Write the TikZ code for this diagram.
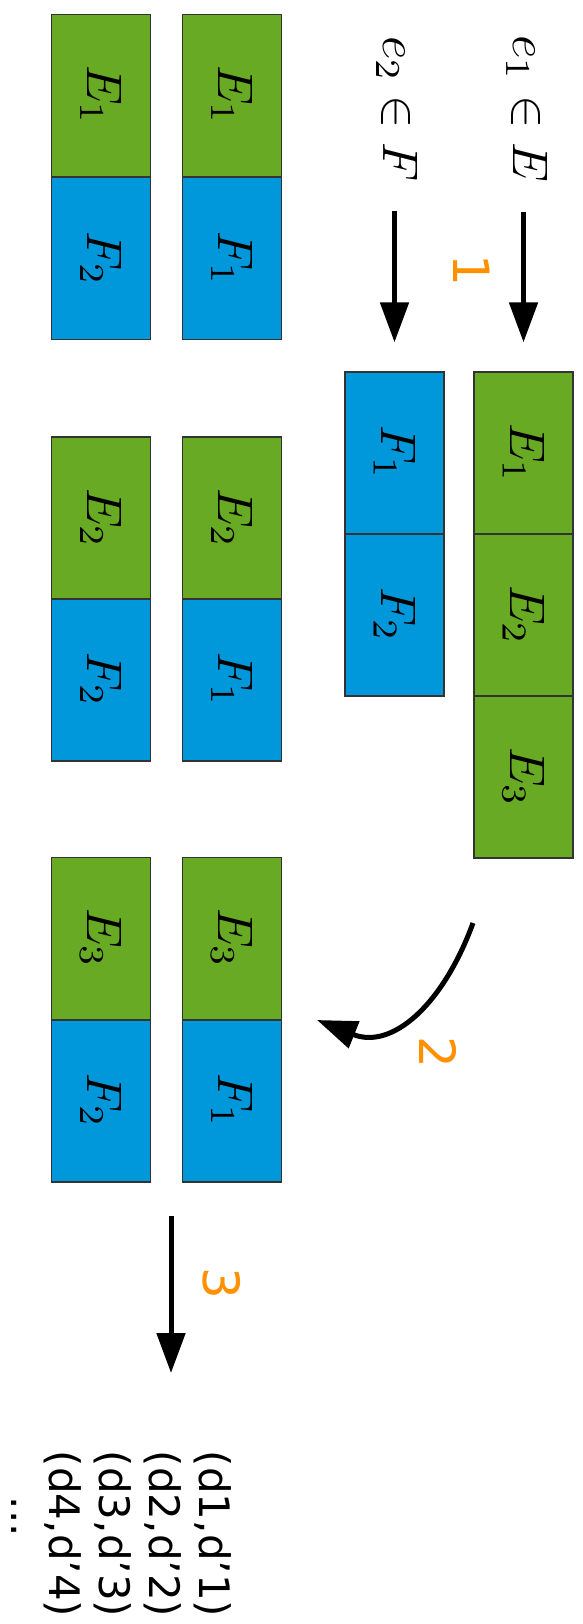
\documentclass[tikz,border=0pt]{standalone}
\usepackage{graphicx}
\usepackage{fontspec}
\newfontfamily\dvs{DejaVu Sans}
\usetikzlibrary{arrows.meta,calc}

\definecolor{cellgreen}{RGB}{104,170,36}
\definecolor{cellblue}{RGB}{0,152,218}
\definecolor{steporange}{RGB}{255,145,0}

% math set at 10pt, enlarged to 50pt
\newcommand{\bigmath}[1]{\scalebox{5}{$#1$}}

\begin{document}
\begin{tikzpicture}[x=1pt,y=-1pt,
  cell/.style={draw=black!80, line width=1.3pt, rotate=-90, minimum width=162pt,
               minimum height=99pt, inner sep=0pt},
  ecell/.style={cell, fill=cellgreen},
  fcell/.style={cell, fill=cellblue},
  mathlbl/.style={rotate=-90, inner sep=0pt},
  steplbl/.style={rotate=-90, inner sep=0pt, text=steporange, font=\dvs\fontsize{50}{60}\selectfont},
  pairlbl/.style={rotate=-90, inner sep=0pt, font=\dvs\fontsize{42}{50}\selectfont},
  flow/.style={line width=5pt, -{Triangle[width=28pt,length=40pt]}},
]
\useasboundingbox (0,0) rectangle (583,1624);

% input sets
\node[mathlbl] (t1) at (527,109) {\bigmath{e_1 \in E}};
\node[mathlbl] (t2) at (397,109) {\bigmath{e_2 \in F}};

% E and F partitions
\node[ecell] (E1) at (523.5,453) {\bigmath{E_1}};
\node[ecell] (E2) at (523.5,615) {\bigmath{E_2}};
\node[ecell] (E3) at (523.5,777) {\bigmath{E_3}};
\node[fcell] (F1) at (394.5,453) {\bigmath{F_1}};
\node[fcell] (F2) at (394.5,615) {\bigmath{F_2}};

\draw[flow, shorten <=29pt, shorten >=29pt] (t1.east -| E1.west) -- (E1.west);
\draw[flow, shorten <=29pt, shorten >=29pt] (t2.east -| F1.west) -- (F1.west);
\node[steplbl] (n1) at (472,270) {1};

% partition pairs
\node[ecell] (pa1) at (232,95.5)  {\bigmath{E_1}};
\node[fcell] (qa1) at (232,258.5) {\bigmath{F_1}};
\node[ecell] (pb1) at (101,95.5)  {\bigmath{E_1}};
\node[fcell] (qb1) at (101,258.5) {\bigmath{F_2}};

\node[ecell] (pa2) at (232,518)   {\bigmath{E_2}};
\node[fcell] (qa2) at (232,680)   {\bigmath{F_1}};
\node[ecell] (pb2) at (101,518)   {\bigmath{E_2}};
\node[fcell] (qb2) at (101,680)   {\bigmath{F_2}};

\node[ecell] (pa3) at (232,938.5) {\bigmath{E_3}};
\node[fcell] (qa3) at (232,1101)  {\bigmath{F_1}};
\node[ecell] (pb3) at (101,938.5) {\bigmath{E_3}};
\node[fcell] (qb3) at (101,1101)  {\bigmath{F_2}};

% step 2: pairing
\coordinate (c2s) at (473,923);
\coordinate (c2e) at (317,1020);
\draw[flow] (c2s) .. controls (443,1005) and (392,1050) .. (c2e);
\node[steplbl] (n2) at (438,1052) {2};

% step 3: comparison results
\node[pairlbl] (d1) at (213,1534) {(d1,d’1)};
\node[pairlbl] (d2) at (163,1534) {(d2,d’2)};
\node[pairlbl] (d3) at (113,1534) {(d3,d’3)};
\node[pairlbl] (d4) at (63,1534)  {(d4,d’4)};
\node[pairlbl] (d5) at (14,1517)  {...};

\coordinate (s3) at ($(qa3.east)!0.5!(qb3.east)+(4.5,0)$);
\draw[flow, shorten <=33pt] (s3) -- (s3 |- 0,1373);
\node[steplbl] (n3) at (222,1283) {3};
\end{tikzpicture}
\end{document}
